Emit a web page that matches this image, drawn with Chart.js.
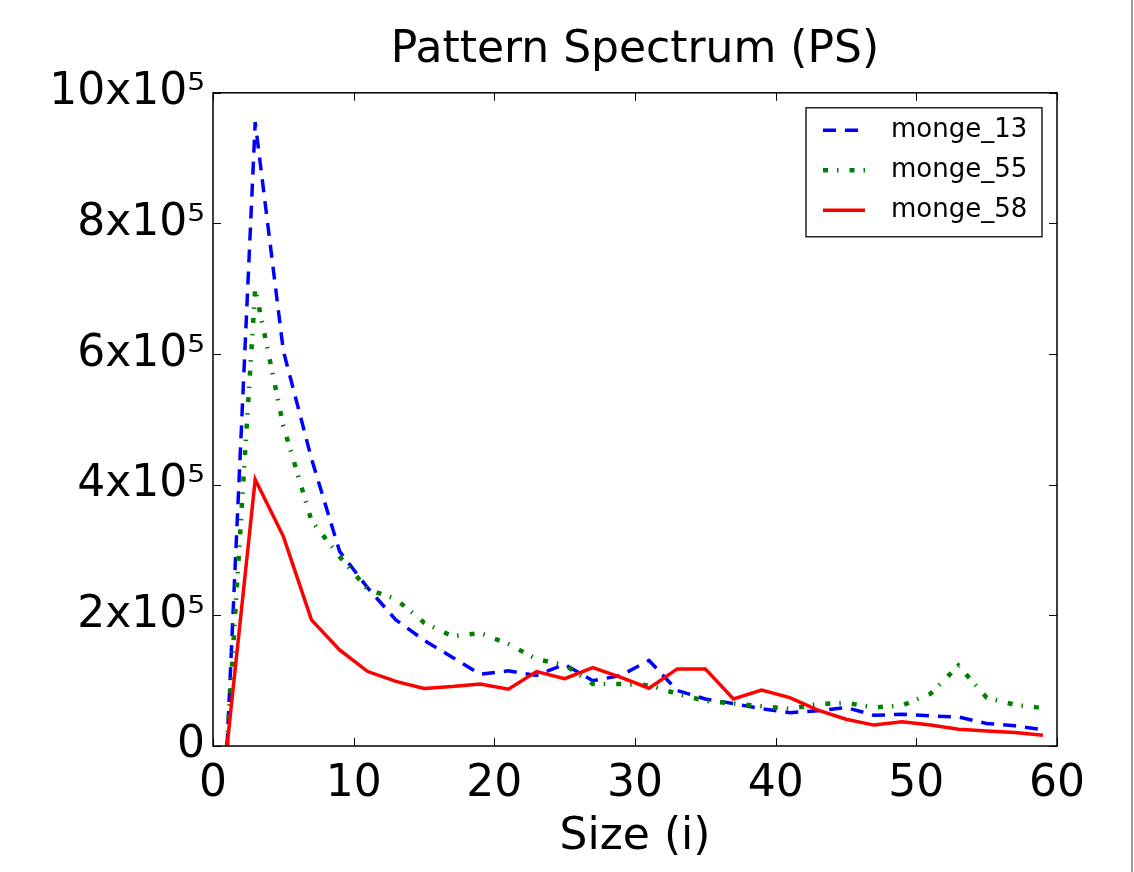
<!DOCTYPE html>
<html>
<head>
<meta charset="utf-8">
<script src="https://cdn.jsdelivr.net/npm/chart.js@4/dist/chart.umd.min.js"></script>
<style>
  html, body { margin: 0; padding: 0; background: #ffffff; }
  #wrap { width: 1134px; height: 872px; position: relative; }
</style>
</head>
<body>
<div id="wrap"><canvas id="c" width="1134" height="872"></canvas></div>
<script>
// ---- data ----
const sizes = [1,3,5,7,9,11,13,15,17,19,21,23,25,27,29,31,33,35,37,39,41,43,45,47,49,51,53,55,57,59];
const monge13 = [0,955000,605000,440000,298000,242000,193000,162000,136000,110000,115000,108000,125000,100000,108000,131000,85000,72000,65000,57000,51000,54000,59000,47000,48500,46000,44500,34500,31000,25000];
const monge55 = [0,700000,490000,345000,290000,240000,225000,189000,168000,173000,156000,133000,124000,95000,95000,93000,80000,69000,65000,61000,57000,64000,66000,59000,62000,80000,123000,74000,63000,58000];
const monge58 = [0,408000,321000,193000,147000,114000,99000,88000,91000,95000,87000,114000,103000,120000,105000,88500,118000,118000,72000,85500,74000,55000,41000,32000,37000,32000,25500,23000,20500,16500];
const seriesNames = ['monge_13', 'monge_55', 'monge_58'];
const yTickLabels = ['0', '2x10\u2075', '4x10\u2075', '6x10\u2075', '8x10\u2075', '10x10\u2075'];
const xTickLabels = ['0', '10', '20', '30', '40', '50', '60'];

const FONT = 'DejaVu Sans';
const pts = (arr) => sizes.map((s, i) => ({ x: s, y: arr[i] }));

const framePlugin = {
  id: 'frame',
  afterDraw(chart) {
    const { ctx, chartArea: a, scales: { x, y } } = chart;
    ctx.save();
    // frame
    ctx.strokeStyle = '#000';
    ctx.lineWidth = 1.5;
    ctx.setLineDash([]);
    ctx.strokeRect(a.left, a.top, a.right - a.left, a.bottom - a.top);
    // inward ticks on all sides
    ctx.lineWidth = 1;
    ctx.beginPath();
    x.ticks.forEach(t => {
      const px = Math.round(x.getPixelForValue(t.value)) + 0.5;
      ctx.moveTo(px, a.bottom); ctx.lineTo(px, a.bottom - 8);
      ctx.moveTo(px, a.top); ctx.lineTo(px, a.top + 8);
    });
    y.ticks.forEach(t => {
      const py = Math.round(y.getPixelForValue(t.value)) + 0.5;
      ctx.moveTo(a.left, py); ctx.lineTo(a.left + 8, py);
      ctx.moveTo(a.right, py); ctx.lineTo(a.right - 8, py);
    });
    ctx.stroke();

    // legend (upper right, inside axes)
    const w = 236, h = 129;
    const lx = a.right - 15 - w, ly = a.top + 15;
    ctx.fillStyle = '#fff';
    ctx.fillRect(lx, ly, w, h);
    ctx.strokeStyle = '#000';
    ctx.lineWidth = 1.3;
    ctx.strokeRect(lx, ly, w, h);
    chart.data.datasets.forEach((ds, i) => {
      const cy = ly + 22.5 + i * 40;
      ctx.save();
      ctx.strokeStyle = ds.borderColor;
      ctx.lineWidth = ds.borderWidth;
      ctx.lineCap = 'butt';
      ctx.setLineDash(ds.borderDash || []);
      ctx.beginPath();
      ctx.moveTo(lx + 17, cy); ctx.lineTo(lx + 59, cy);
      ctx.stroke();
      ctx.restore();
      ctx.fillStyle = '#000';
      ctx.font = '26px "' + FONT + '"';
      ctx.textAlign = 'left';
      ctx.textBaseline = 'middle';
      ctx.fillText(ds.label, lx + 85, cy);
    });

    // right page edge line
    ctx.fillStyle = '#9c9c9c';
    ctx.fillRect(1131, 0, 2, chart.height);
    ctx.restore();
  }
};

new Chart(document.getElementById('c'), {
  type: 'line',
  data: {
    datasets: [
      { label: seriesNames[0], data: pts(monge13), borderColor: '#0000ff', borderWidth: 3.5, borderDash: [13, 9], order: 2 },
      { label: seriesNames[1], data: pts(monge55), borderColor: '#008000', borderWidth: 4.5, borderDash: [5, 9, 1.5, 11], order: 1 },
      { label: seriesNames[2], data: pts(monge58), borderColor: '#ff0000', borderWidth: 3.5, borderDash: [], order: 0 }
    ]
  },
  options: {
    responsive: false,
    devicePixelRatio: 1,
    animation: false,
    layout: { padding: { left: 0, right: 77, top: 0, bottom: 0 } },
    elements: { point: { radius: 0, hoverRadius: 0 }, line: { tension: 0, fill: false } },
    plugins: {
      legend: { display: false },
      tooltip: { enabled: false },
      title: {
        display: true,
        fullSize: false,
        text: 'Pattern Spectrum (PS)',
        color: '#000',
        font: { family: FONT, size: 44, weight: 'normal' },
        padding: { top: 24, bottom: 16 }
      }
    },
    scales: {
      x: {
        type: 'linear', min: 0, max: 60,
        grid: { display: false, drawTicks: false },
        border: { display: false },
        ticks: {
          stepSize: 10, color: '#000', padding: 12,
          font: { family: FONT, size: 44 },
          callback: (v) => xTickLabels[Math.round(v / 10)]
        },
        title: { display: true, text: 'Size (i)', color: '#000', font: { family: FONT, size: 44 }, padding: { top: 0, bottom: 8 } },
        afterFit: (s) => { s.height = 126; }
      },
      y: {
        type: 'linear', min: 0, max: 1000000,
        grid: { display: false, drawTicks: false },
        border: { display: false },
        ticks: {
          stepSize: 200000, color: '#000', padding: 8,
          font: { family: FONT, size: 44 },
          callback: (v) => yTickLabels[Math.round(v / 200000)]
        },
        afterFit: (s) => { s.width = 213; }
      }
    }
  },
  plugins: [framePlugin]
});
</script>
</body>
</html>
